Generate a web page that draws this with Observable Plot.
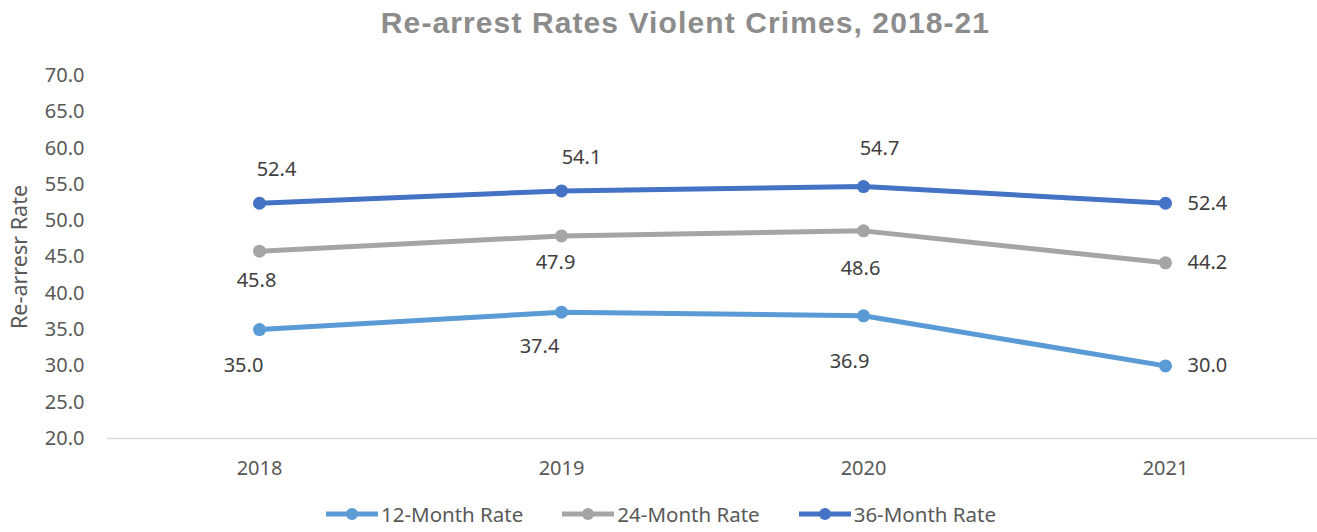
<!DOCTYPE html>
<html>
<head>
<meta charset="utf-8">
<script src="https://cdn.jsdelivr.net/npm/d3@7"></script>
<script src="https://cdn.jsdelivr.net/npm/@observablehq/plot@0.6"></script>
<style>
  html, body { margin: 0; padding: 0; background: #fff; }
  body { width: 1317px; height: 532px; overflow: hidden; font-family: "Noto Sans", sans-serif; }
  #title { height: 60px; box-sizing: border-box; padding-top: 3px; padding-left: 54px; text-align: center; font-family: "Liberation Sans", sans-serif; font-weight: bold; font-size: 30px; letter-spacing: 1.1px; color: #8c8c8c; line-height: 40px; }
  #legend { display: flex; justify-content: center; align-items: center; gap: 38px; height: 37px; font-size: 20.5px; color: #595959; padding-left: 4px; }
  .item { display: flex; align-items: center; gap: 2px; }
</style>
</head>
<body>
<div id="title">Re-arrest Rates Violent Crimes, 2018-21</div>
<div id="chart"></div>
<div id="legend"></div>
<script>
// ---- data ----
const years = ["2018", "2019", "2020", "2021"];
const rate12 = [35.0, 37.4, 36.9, 30.0];
const rate24 = [45.8, 47.9, 48.6, 44.2];
const rate36 = [52.4, 54.1, 54.7, 52.4];
const seriesNames = ["12-Month Rate", "24-Month Rate", "36-Month Rate"];
const yTicks = [20, 25, 30, 35, 40, 45, 50, 55, 60, 65, 70];
const yLabel = "Re-arresr Rate";

// ---- styles ----
const colors = ["#5b9bd5", "#a5a5a5", "#4472c4"];
const labelOffsets = [
  [[-16, 36], [-22, 34], [-14, 46], [22, 0]],
  [[-3, 29], [-6, 27], [-3, 38], [22, 0]],
  [[17, -34], [20, -33], [16, -38], [22, 0]]
];

const allSeries = [rate12, rate24, rate36];
const rows = allSeries.flatMap((vals, s) =>
  vals.map((v, i) => ({ series: seriesNames[s], year: years[i], value: v, s, i })));

const labelMarks = rows.map(r => Plot.text([r], {
  x: "year", y: "value", text: d => d.value.toFixed(1),
  dx: labelOffsets[r.s][r.i][0], dy: labelOffsets[r.s][r.i][1],
  textAnchor: r.i === years.length - 1 ? "start" : "middle",
  fill: "#404040", fontSize: 20
}));

const chart = Plot.plot({
  width: 1317,
  height: 435,
  marginLeft: 107,
  marginRight: 0,
  marginTop: 15,
  marginBottom: 57,
  style: { fontFamily: "Noto Sans, sans-serif", fontSize: "20px", color: "#595959", background: "white" },
  x: { type: "band", domain: years, padding: 0 },
  y: { domain: [20, 70] },
  color: { domain: seriesNames, range: colors },
  marks: [
    Plot.axisX({ tickSize: 0, tickPadding: 22, label: null, fontSize: 20 }),
    Plot.axisY({ ticks: yTicks, tickFormat: d => d.toFixed(1), tickSize: 0, tickPadding: 23, label: null, fontSize: 20 }),
    Plot.text([yLabel], { frameAnchor: "left", text: d => d, rotate: -90, dx: -87, textAnchor: "middle", lineAnchor: "middle", fontSize: 21.5, fill: "#595959" }),
    Plot.ruleY([20], { stroke: "#d9d9d9", strokeWidth: 1.5 }),
    Plot.line(rows, { x: "year", y: "value", z: "series", stroke: "series", strokeWidth: 5, curve: "linear" }),
    Plot.dot(rows, { x: "year", y: "value", fill: "series", r: 6.5 }),
    ...labelMarks
  ]
});
document.getElementById("chart").appendChild(chart);

// legend
const legend = document.getElementById("legend");
seriesNames.forEach((name, s) => {
  const item = document.createElement("div");
  item.className = "item";
  item.innerHTML = `<svg width="54" height="16"><line x1="1" y1="8" x2="53" y2="8" stroke="${colors[s]}" stroke-width="5"/><circle cx="27" cy="8" r="6" fill="${colors[s]}"/></svg><span>${name}</span>`;
  legend.appendChild(item);
});
</script>
</body>
</html>
